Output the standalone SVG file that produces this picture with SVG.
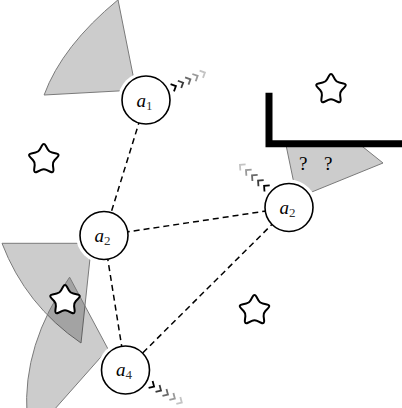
<svg xmlns="http://www.w3.org/2000/svg" xmlns:xlink="http://www.w3.org/1999/xlink" width="402" height="408" viewBox="0 0 402 408">
<style>
.cone{fill:#000;fill-opacity:0.2;stroke:#7a7a7a;stroke-width:1}
.halo{fill:#fff;stroke:none}
.node{fill:#fff;stroke:#000;stroke-width:1.6}
.edge{stroke:#000;stroke-width:1.5;stroke-dasharray:6,4;fill:none}
.lbl{font-family:"Liberation Serif",serif;font-size:19px;fill:#000}
.lbl .v{font-style:italic}
.lbl .s{font-size:13px;fill:#333}
.q{font-family:"Liberation Serif",serif;font-size:19px;fill:#000;text-anchor:middle}
.star{fill:#fff;stroke:#000;stroke-width:1.75;stroke-linejoin:round}
.chev{fill:none;stroke-width:1.8;stroke-linecap:butt;stroke-linejoin:miter}
</style>
<defs>
<path id="starshape" d="M-1.690,-11.935 Q0,-15 1.690,-11.935 L3.495,-8.661 Q4.702,-6.472 7.157,-6.001 L10.829,-5.295 Q14.266,-4.635 11.873,-2.081 L9.317,0.648 Q7.608,2.472 7.919,4.953 L8.382,8.663 Q8.817,12.135 5.648,10.649 L2.263,9.061 Q0,8 -2.263,9.062 L-5.648,10.649 Q-8.817,12.135 -8.382,8.663 L-7.919,4.953 Q-7.608,2.472 -9.317,0.648 L-11.873,-2.081 Q-14.266,-4.635 -10.829,-5.295 L-7.157,-6.001 Q-4.702,-6.472 -3.495,-8.661 Z"/>
<g id="chevrons" class="chev">
<path d="M29,-4 L33,0 L29,4" stroke="#000"/>
<path d="M37,-4 L41,0 L37,4" stroke="#3a3a3a"/>
<path d="M45,-4 L49,0 L45,4" stroke="#6a6a6a"/>
<path d="M53,-4 L57,0 L53,4" stroke="#9a9a9a"/>
<path d="M61,-4 L65,0 L61,4" stroke="#c4c4c4"/>
</g>
</defs>

<g id="cones">
<path class="cone" d="M136,90 L44.1,95 Q62,46 118,-0.2 Z"/>
<path class="cone" d="M297,198 L286,145 L360.5,145 L383,163 Z"/>
<path class="cone" d="M91.6,243.3 L2,243.3 Q25.7,305.4 81,343 Z"/>
<path class="cone" d="M108,349 L69.6,277.2 Q22.3,344.3 27,415 L49.5,415 Z"/>
</g>

<g id="halos">
<circle class="halo" cx="146" cy="100" r="28"/>
<circle class="halo" cx="104" cy="235.5" r="28"/>
<circle class="halo" cx="289" cy="207.5" r="28"/>
<circle class="halo" cx="125.5" cy="370" r="28"/>
</g>

<g id="connectors">
<line class="edge" x1="146" y1="100" x2="104" y2="235.5"/>
<line class="edge" x1="104" y1="235.5" x2="289" y2="207.5"/>
<line class="edge" x1="289" y1="207.5" x2="125.5" y2="370"/>
<line class="edge" x1="104" y1="235.5" x2="125.5" y2="370"/>
</g>

<g id="motion">
<use xlink:href="#chevrons" href="#chevrons" transform="translate(146,100) rotate(-25)"/>
<use xlink:href="#chevrons" href="#chevrons" transform="translate(289,207.5) rotate(221)"/>
<use xlink:href="#chevrons" href="#chevrons" transform="translate(125.5,370) rotate(30)"/>
</g>

<g id="stars">
<use class="star" xlink:href="#starshape" href="#starshape" transform="translate(43.8,159.5) scale(1.15)"/>
<use class="star" xlink:href="#starshape" href="#starshape" transform="translate(331,89.5) scale(1.15)"/>
<use class="star" xlink:href="#starshape" href="#starshape" transform="translate(254.5,310.5) scale(1.15)"/>
<use class="star" xlink:href="#starshape" href="#starshape" transform="translate(65,300.5) scale(1.15)"/>
</g>

<path id="wall" d="M269,92.7 V143.7 H403" fill="none" stroke="#000" stroke-width="7" stroke-linejoin="miter"/>

<text class="q" x="303.3" y="170">?</text>
<text class="q" x="328.3" y="170">?</text>

<g id="node-a1">
<circle class="node" cx="146" cy="100" r="24"/>
<text class="lbl" x="144.5" y="106.7" text-anchor="middle"><tspan class="v">a</tspan><tspan class="s" dy="3.4">1</tspan></text>
</g>
<g id="node-a2-left">
<circle class="node" cx="104" cy="235.5" r="24"/>
<text class="lbl" x="102.5" y="242" text-anchor="middle"><tspan class="v">a</tspan><tspan class="s" dy="3.4">2</tspan></text>
</g>
<g id="node-a2-right">
<circle class="node" cx="289" cy="207.5" r="24"/>
<text class="lbl" x="287.5" y="213.5" text-anchor="middle"><tspan class="v">a</tspan><tspan class="s" dy="3.4">2</tspan></text>
</g>
<g id="node-a4">
<circle class="node" cx="125.5" cy="370" r="24"/>
<text class="lbl" x="124" y="376" text-anchor="middle"><tspan class="v">a</tspan><tspan class="s" dy="3.4">4</tspan></text>
</g>
</svg>
